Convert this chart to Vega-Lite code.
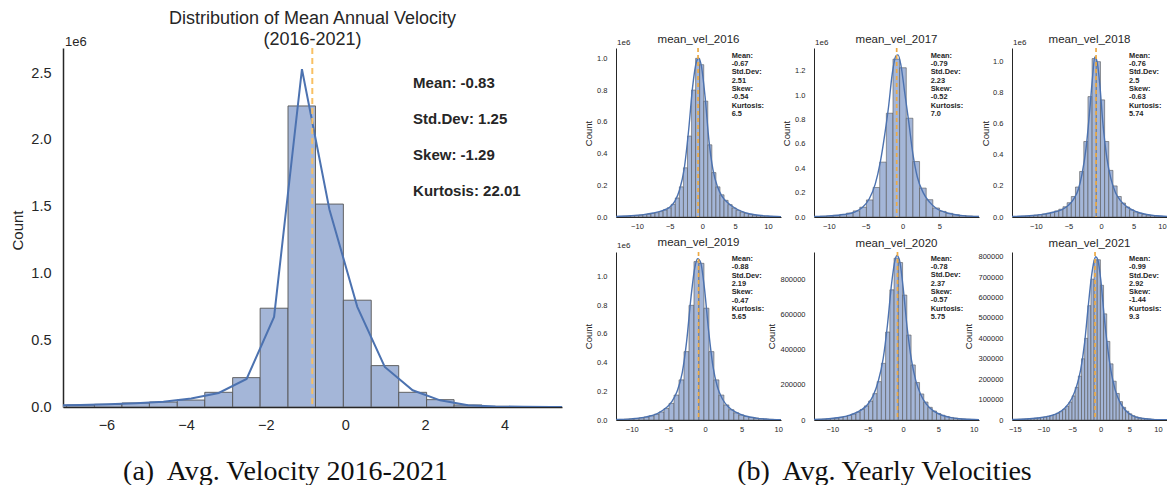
{
  "$schema": "https://vega.github.io/schema/vega-lite/v6.json",
  "padding": {"left": 10, "top": 10, "right": 0, "bottom": 0},
  "background": "white",
  "config": {
    "view": {"stroke": null},
    "font": "Liberation Sans",
    "axis": {"grid": false, "ticks": false, "tickCount": 20, "domainColor": "#262626", "labelColor": "#262626", "titleColor": "#262626", "labelFont": "Liberation Sans", "titleFont": "Liberation Sans", "titleFontWeight": "normal", "labelOverlap": false},
    "title": {"font": "Liberation Sans", "fontWeight": "normal", "color": "#262626", "anchor": "middle", "frame": "group"}
  },
  "datasets": {
    "hist_all": [
      {"lo": -7.7, "hi": -7.0, "n": 0.012}, {"lo": -7.0, "hi": -6.3, "n": 0.015}, {"lo": -6.3, "hi": -5.61, "n": 0.02}, {"lo": -5.61, "hi": -4.92, "n": 0.03}, {"lo": -4.92, "hi": -4.22, "n": 0.037}, {"lo": -4.22, "hi": -3.53, "n": 0.052}, {"lo": -3.53, "hi": -2.83, "n": 0.11}, {"lo": -2.83, "hi": -2.14, "n": 0.22}, {"lo": -2.14, "hi": -1.44, "n": 0.74}, {"lo": -1.44, "hi": -0.75, "n": 2.255}, {"lo": -0.75, "hi": -0.05, "n": 1.52}, {"lo": -0.05, "hi": 0.65, "n": 0.8}, {"lo": 0.65, "hi": 1.34, "n": 0.31}, {"lo": 1.34, "hi": 2.04, "n": 0.11}, {"lo": 2.04, "hi": 2.73, "n": 0.055}, {"lo": 2.73, "hi": 3.43, "n": 0.015}, {"lo": 3.43, "hi": 4.12, "n": 0.005}, {"lo": 4.12, "hi": 4.82, "n": 0.002}, {"lo": 4.82, "hi": 5.51, "n": 0.001}
    ],
    "kde_all": [
      {"v": -7.35, "d": 0.011}, {"v": -6.65, "d": 0.015}, {"v": -5.96, "d": 0.02}, {"v": -5.26, "d": 0.028}, {"v": -4.57, "d": 0.04}, {"v": -3.87, "d": 0.063}, {"v": -3.18, "d": 0.105}, {"v": -2.48, "d": 0.21}, {"v": -1.79, "d": 0.675}, {"v": -1.09, "d": 2.53}, {"v": -0.4, "d": 1.48}, {"v": 0.3, "d": 0.75}, {"v": 0.99, "d": 0.3}, {"v": 1.69, "d": 0.125}, {"v": 2.38, "d": 0.05}, {"v": 3.08, "d": 0.0125}, {"v": 3.77, "d": 0.004}, {"v": 4.47, "d": 0.0015}, {"v": 5.16, "d": 0.0005}, {"v": 5.86, "d": 0.0002}
    ],
    "h2016": [
      {"lo": -13.44, "hi": -12.82, "n": 0.003}, {"lo": -12.82, "hi": -12.2, "n": 0.004}, {"lo": -12.2, "hi": -11.58, "n": 0.005}, {"lo": -11.58, "hi": -10.96, "n": 0.006}, {"lo": -10.96, "hi": -10.34, "n": 0.008}, {"lo": -10.34, "hi": -9.72, "n": 0.01}, {"lo": -9.72, "hi": -9.1, "n": 0.012}, {"lo": -9.1, "hi": -8.48, "n": 0.015}, {"lo": -8.48, "hi": -7.86, "n": 0.018}, {"lo": -7.86, "hi": -7.24, "n": 0.022}, {"lo": -7.24, "hi": -6.62, "n": 0.027}, {"lo": -6.62, "hi": -6.0, "n": 0.034}, {"lo": -6.0, "hi": -5.38, "n": 0.044}, {"lo": -5.38, "hi": -4.76, "n": 0.058}, {"lo": -4.76, "hi": -4.14, "n": 0.08}, {"lo": -4.14, "hi": -3.52, "n": 0.12}, {"lo": -3.52, "hi": -2.9, "n": 0.19}, {"lo": -2.9, "hi": -2.28, "n": 0.31}, {"lo": -2.28, "hi": -1.66, "n": 0.51}, {"lo": -1.66, "hi": -1.04, "n": 0.8}, {"lo": -1.04, "hi": -0.42, "n": 1.0}, {"lo": -0.42, "hi": 0.2, "n": 0.96}, {"lo": 0.2, "hi": 0.82, "n": 0.73}, {"lo": 0.82, "hi": 1.44, "n": 0.455}, {"lo": 1.44, "hi": 2.06, "n": 0.28}, {"lo": 2.06, "hi": 2.68, "n": 0.19}, {"lo": 2.68, "hi": 3.3, "n": 0.14}, {"lo": 3.3, "hi": 3.92, "n": 0.105}, {"lo": 3.92, "hi": 4.54, "n": 0.078}, {"lo": 4.54, "hi": 5.16, "n": 0.057}, {"lo": 5.16, "hi": 5.78, "n": 0.042}, {"lo": 5.78, "hi": 6.4, "n": 0.031}, {"lo": 6.4, "hi": 7.02, "n": 0.023}, {"lo": 7.02, "hi": 7.64, "n": 0.017}, {"lo": 7.64, "hi": 8.26, "n": 0.012}, {"lo": 8.26, "hi": 8.88, "n": 0.009}, {"lo": 8.88, "hi": 9.5, "n": 0.007}, {"lo": 9.5, "hi": 10.12, "n": 0.005}, {"lo": 10.12, "hi": 10.74, "n": 0.004}, {"lo": 10.74, "hi": 11.36, "n": 0.003}, {"lo": 11.36, "hi": 11.98, "n": 0.002}
    ],
    "k2016": [
      {"v": -13.2, "d": 0.004}, {"v": -11, "d": 0.008}, {"v": -9, "d": 0.015}, {"v": -7.5, "d": 0.025}, {"v": -6, "d": 0.042}, {"v": -5, "d": 0.062}, {"v": -4.2, "d": 0.1}, {"v": -3.5, "d": 0.17}, {"v": -2.8, "d": 0.3}, {"v": -2.1, "d": 0.55}, {"v": -1.5, "d": 0.82}, {"v": -0.9, "d": 0.98}, {"v": -0.6, "d": 1.0}, {"v": -0.2, "d": 0.96}, {"v": 0.4, "d": 0.76}, {"v": 1.0, "d": 0.48}, {"v": 1.6, "d": 0.3}, {"v": 2.3, "d": 0.19}, {"v": 3.0, "d": 0.13}, {"v": 4.0, "d": 0.085}, {"v": 5.0, "d": 0.055}, {"v": 6.5, "d": 0.028}, {"v": 8, "d": 0.014}, {"v": 10, "d": 0.006}, {"v": 12, "d": 0.002}
    ],
    "h2017": [
      {"lo": -12.09, "hi": -11.19, "n": 0.004}, {"lo": -11.19, "hi": -10.29, "n": 0.006}, {"lo": -10.29, "hi": -9.39, "n": 0.009}, {"lo": -9.39, "hi": -8.49, "n": 0.014}, {"lo": -8.49, "hi": -7.59, "n": 0.021}, {"lo": -7.59, "hi": -6.69, "n": 0.032}, {"lo": -6.69, "hi": -5.79, "n": 0.05}, {"lo": -5.79, "hi": -4.89, "n": 0.08}, {"lo": -4.89, "hi": -3.99, "n": 0.14}, {"lo": -3.99, "hi": -3.09, "n": 0.242}, {"lo": -3.09, "hi": -2.19, "n": 0.45}, {"lo": -2.19, "hi": -1.29, "n": 0.851}, {"lo": -1.29, "hi": -0.39, "n": 1.295}, {"lo": -0.39, "hi": 0.51, "n": 1.224}, {"lo": 0.51, "hi": 1.41, "n": 0.81}, {"lo": 1.41, "hi": 2.31, "n": 0.455}, {"lo": 2.31, "hi": 3.21, "n": 0.237}, {"lo": 3.21, "hi": 4.11, "n": 0.142}, {"lo": 4.11, "hi": 5.01, "n": 0.074}, {"lo": 5.01, "hi": 5.91, "n": 0.046}, {"lo": 5.91, "hi": 6.81, "n": 0.03}, {"lo": 6.81, "hi": 7.71, "n": 0.019}, {"lo": 7.71, "hi": 8.61, "n": 0.012}, {"lo": 8.61, "hi": 9.51, "n": 0.008}, {"lo": 9.51, "hi": 10.41, "n": 0.005}, {"lo": 10.41, "hi": 11.31, "n": 0.003}
    ],
    "k2017": [
      {"v": -12, "d": 0.004}, {"v": -10, "d": 0.009}, {"v": -8, "d": 0.02}, {"v": -6.5, "d": 0.04}, {"v": -5.5, "d": 0.075}, {"v": -4.5, "d": 0.15}, {"v": -3.7, "d": 0.27}, {"v": -3.0, "d": 0.455}, {"v": -2.4, "d": 0.68}, {"v": -1.9, "d": 0.9}, {"v": -1.4, "d": 1.17}, {"v": -0.9, "d": 1.32}, {"v": -0.6, "d": 1.33}, {"v": -0.2, "d": 1.24}, {"v": 0.3, "d": 1.02}, {"v": 0.8, "d": 0.8}, {"v": 1.4, "d": 0.52}, {"v": 2.0, "d": 0.33}, {"v": 2.8, "d": 0.2}, {"v": 3.7, "d": 0.12}, {"v": 4.6, "d": 0.07}, {"v": 5.6, "d": 0.042}, {"v": 7, "d": 0.02}, {"v": 8.5, "d": 0.009}, {"v": 10.4, "d": 0.004}
    ],
    "h2018": [
      {"lo": -14.16, "hi": -13.52, "n": 0.002}, {"lo": -13.52, "hi": -12.88, "n": 0.003}, {"lo": -12.88, "hi": -12.24, "n": 0.004}, {"lo": -12.24, "hi": -11.6, "n": 0.005}, {"lo": -11.6, "hi": -10.96, "n": 0.007}, {"lo": -10.96, "hi": -10.32, "n": 0.009}, {"lo": -10.32, "hi": -9.68, "n": 0.012}, {"lo": -9.68, "hi": -9.04, "n": 0.015}, {"lo": -9.04, "hi": -8.4, "n": 0.019}, {"lo": -8.4, "hi": -7.76, "n": 0.024}, {"lo": -7.76, "hi": -7.12, "n": 0.03}, {"lo": -7.12, "hi": -6.48, "n": 0.039}, {"lo": -6.48, "hi": -5.84, "n": 0.05}, {"lo": -5.84, "hi": -5.2, "n": 0.066}, {"lo": -5.2, "hi": -4.56, "n": 0.092}, {"lo": -4.56, "hi": -3.92, "n": 0.132}, {"lo": -3.92, "hi": -3.28, "n": 0.193}, {"lo": -3.28, "hi": -2.64, "n": 0.293}, {"lo": -2.64, "hi": -2.0, "n": 0.486}, {"lo": -2.0, "hi": -1.36, "n": 0.775}, {"lo": -1.36, "hi": -0.72, "n": 1.02}, {"lo": -0.72, "hi": -0.08, "n": 1.0}, {"lo": -0.08, "hi": 0.56, "n": 0.754}, {"lo": 0.56, "hi": 1.2, "n": 0.486}, {"lo": 1.2, "hi": 1.84, "n": 0.3}, {"lo": 1.84, "hi": 2.48, "n": 0.2}, {"lo": 2.48, "hi": 3.12, "n": 0.132}, {"lo": 3.12, "hi": 3.76, "n": 0.09}, {"lo": 3.76, "hi": 4.4, "n": 0.064}, {"lo": 4.4, "hi": 5.04, "n": 0.046}, {"lo": 5.04, "hi": 5.68, "n": 0.033}, {"lo": 5.68, "hi": 6.32, "n": 0.024}, {"lo": 6.32, "hi": 6.96, "n": 0.017}, {"lo": 6.96, "hi": 7.6, "n": 0.012}, {"lo": 7.6, "hi": 8.24, "n": 0.009}, {"lo": 8.24, "hi": 8.88, "n": 0.006}, {"lo": 8.88, "hi": 9.52, "n": 0.004}, {"lo": 9.52, "hi": 10.16, "n": 0.003}
    ],
    "k2018": [
      {"v": -13.7, "d": 0.003}, {"v": -11, "d": 0.008}, {"v": -9, "d": 0.017}, {"v": -7.5, "d": 0.029}, {"v": -6, "d": 0.048}, {"v": -5, "d": 0.075}, {"v": -4.2, "d": 0.115}, {"v": -3.5, "d": 0.175}, {"v": -2.9, "d": 0.28}, {"v": -2.3, "d": 0.44}, {"v": -1.7, "d": 0.7}, {"v": -1.3, "d": 0.9}, {"v": -0.95, "d": 1.03}, {"v": -0.6, "d": 1.0}, {"v": -0.2, "d": 0.86}, {"v": 0.3, "d": 0.6}, {"v": 0.9, "d": 0.38}, {"v": 1.5, "d": 0.25}, {"v": 2.2, "d": 0.16}, {"v": 3.0, "d": 0.105}, {"v": 4.0, "d": 0.065}, {"v": 5.3, "d": 0.036}, {"v": 7, "d": 0.016}, {"v": 8.5, "d": 0.008}, {"v": 10.2, "d": 0.003}
    ],
    "h2019": [
      {"lo": -12.38, "hi": -11.7, "n": 0.003}, {"lo": -11.7, "hi": -11.02, "n": 0.004}, {"lo": -11.02, "hi": -10.34, "n": 0.006}, {"lo": -10.34, "hi": -9.66, "n": 0.008}, {"lo": -9.66, "hi": -8.98, "n": 0.011}, {"lo": -8.98, "hi": -8.3, "n": 0.015}, {"lo": -8.3, "hi": -7.62, "n": 0.021}, {"lo": -7.62, "hi": -6.94, "n": 0.029}, {"lo": -6.94, "hi": -6.26, "n": 0.04}, {"lo": -6.26, "hi": -5.58, "n": 0.056}, {"lo": -5.58, "hi": -4.9, "n": 0.08}, {"lo": -4.9, "hi": -4.22, "n": 0.116}, {"lo": -4.22, "hi": -3.54, "n": 0.174}, {"lo": -3.54, "hi": -2.86, "n": 0.28}, {"lo": -2.86, "hi": -2.18, "n": 0.477}, {"lo": -2.18, "hi": -1.5, "n": 0.8}, {"lo": -1.5, "hi": -0.82, "n": 1.105}, {"lo": -0.82, "hi": -0.14, "n": 1.093}, {"lo": -0.14, "hi": 0.54, "n": 0.78}, {"lo": 0.54, "hi": 1.22, "n": 0.477}, {"lo": 1.22, "hi": 1.9, "n": 0.28}, {"lo": 1.9, "hi": 2.58, "n": 0.174}, {"lo": 2.58, "hi": 3.26, "n": 0.105}, {"lo": 3.26, "hi": 3.94, "n": 0.072}, {"lo": 3.94, "hi": 4.62, "n": 0.05}, {"lo": 4.62, "hi": 5.3, "n": 0.035}, {"lo": 5.3, "hi": 5.98, "n": 0.025}, {"lo": 5.98, "hi": 6.66, "n": 0.018}, {"lo": 6.66, "hi": 7.34, "n": 0.013}, {"lo": 7.34, "hi": 8.02, "n": 0.009}, {"lo": 8.02, "hi": 8.7, "n": 0.006}, {"lo": 8.7, "hi": 9.38, "n": 0.0045}, {"lo": 9.38, "hi": 10.06, "n": 0.003}, {"lo": 10.06, "hi": 10.74, "n": 0.002}
    ],
    "k2019": [
      {"v": -12.1, "d": 0.003}, {"v": -10, "d": 0.008}, {"v": -8, "d": 0.022}, {"v": -6.5, "d": 0.045}, {"v": -5.3, "d": 0.085}, {"v": -4.5, "d": 0.13}, {"v": -3.8, "d": 0.2}, {"v": -3.1, "d": 0.33}, {"v": -2.5, "d": 0.55}, {"v": -1.9, "d": 0.86}, {"v": -1.4, "d": 1.06}, {"v": -1.0, "d": 1.125}, {"v": -0.6, "d": 1.1}, {"v": -0.1, "d": 0.93}, {"v": 0.5, "d": 0.62}, {"v": 1.1, "d": 0.37}, {"v": 1.7, "d": 0.23}, {"v": 2.4, "d": 0.145}, {"v": 3.2, "d": 0.09}, {"v": 4.2, "d": 0.055}, {"v": 5.5, "d": 0.028}, {"v": 7, "d": 0.013}, {"v": 8.5, "d": 0.006}, {"v": 10.4, "d": 0.002}
    ],
    "h2020": [
      {"lo": -12.66, "hi": -12.06, "n": 2900}, {"lo": -12.06, "hi": -11.46, "n": 3800}, {"lo": -11.46, "hi": -10.86, "n": 5000}, {"lo": -10.86, "hi": -10.26, "n": 6500}, {"lo": -10.26, "hi": -9.66, "n": 8500}, {"lo": -9.66, "hi": -9.06, "n": 11500}, {"lo": -9.06, "hi": -8.46, "n": 15000}, {"lo": -8.46, "hi": -7.86, "n": 20000}, {"lo": -7.86, "hi": -7.26, "n": 26000}, {"lo": -7.26, "hi": -6.66, "n": 34000}, {"lo": -6.66, "hi": -6.06, "n": 45000}, {"lo": -6.06, "hi": -5.46, "n": 60000}, {"lo": -5.46, "hi": -4.86, "n": 80000}, {"lo": -4.86, "hi": -4.26, "n": 108000}, {"lo": -4.26, "hi": -3.66, "n": 150000}, {"lo": -3.66, "hi": -3.06, "n": 218000}, {"lo": -3.06, "hi": -2.46, "n": 322000}, {"lo": -2.46, "hi": -1.86, "n": 500000}, {"lo": -1.86, "hi": -1.26, "n": 740000}, {"lo": -1.26, "hi": -0.66, "n": 920000}, {"lo": -0.66, "hi": -0.06, "n": 895000}, {"lo": -0.06, "hi": 0.54, "n": 710000}, {"lo": 0.54, "hi": 1.14, "n": 483000}, {"lo": 1.14, "hi": 1.74, "n": 313000}, {"lo": 1.74, "hi": 2.34, "n": 213000}, {"lo": 2.34, "hi": 2.94, "n": 148000}, {"lo": 2.94, "hi": 3.54, "n": 102000}, {"lo": 3.54, "hi": 4.14, "n": 72000}, {"lo": 4.14, "hi": 4.74, "n": 51000}, {"lo": 4.74, "hi": 5.34, "n": 37000}, {"lo": 5.34, "hi": 5.94, "n": 27000}, {"lo": 5.94, "hi": 6.54, "n": 20000}, {"lo": 6.54, "hi": 7.14, "n": 14500}, {"lo": 7.14, "hi": 7.74, "n": 10500}, {"lo": 7.74, "hi": 8.34, "n": 7500}, {"lo": 8.34, "hi": 8.94, "n": 5500}, {"lo": 8.94, "hi": 9.54, "n": 4000}, {"lo": 9.54, "hi": 10.14, "n": 3000}, {"lo": 10.14, "hi": 10.74, "n": 2200}, {"lo": 10.74, "hi": 11.34, "n": 1600}
    ],
    "k2020": [
      {"v": -12.6, "d": 3000}, {"v": -10.5, "d": 7000}, {"v": -9, "d": 14000}, {"v": -7.5, "d": 28000}, {"v": -6, "d": 55000}, {"v": -5, "d": 88000}, {"v": -4.2, "d": 140000}, {"v": -3.5, "d": 220000}, {"v": -2.8, "d": 350000}, {"v": -2.2, "d": 540000}, {"v": -1.6, "d": 780000}, {"v": -1.15, "d": 905000}, {"v": -0.85, "d": 935000}, {"v": -0.45, "d": 900000}, {"v": 0, "d": 760000}, {"v": 0.6, "d": 520000}, {"v": 1.2, "d": 340000}, {"v": 1.8, "d": 225000}, {"v": 2.5, "d": 145000}, {"v": 3.3, "d": 90000}, {"v": 4.3, "d": 52000}, {"v": 5.5, "d": 27000}, {"v": 7, "d": 12000}, {"v": 8.5, "d": 5500}, {"v": 10.8, "d": 1800}
    ],
    "h2021": [
      {"lo": -15.45, "hi": -14.9, "n": 2600}, {"lo": -14.9, "hi": -14.35, "n": 3100}, {"lo": -14.35, "hi": -13.8, "n": 3700}, {"lo": -13.8, "hi": -13.25, "n": 4400}, {"lo": -13.25, "hi": -12.7, "n": 5200}, {"lo": -12.7, "hi": -12.15, "n": 6200}, {"lo": -12.15, "hi": -11.6, "n": 7400}, {"lo": -11.6, "hi": -11.05, "n": 8800}, {"lo": -11.05, "hi": -10.5, "n": 10500}, {"lo": -10.5, "hi": -9.95, "n": 12500}, {"lo": -9.95, "hi": -9.4, "n": 15000}, {"lo": -9.4, "hi": -8.85, "n": 18000}, {"lo": -8.85, "hi": -8.3, "n": 22000}, {"lo": -8.3, "hi": -7.75, "n": 27000}, {"lo": -7.75, "hi": -7.2, "n": 33000}, {"lo": -7.2, "hi": -6.65, "n": 41000}, {"lo": -6.65, "hi": -6.1, "n": 52000}, {"lo": -6.1, "hi": -5.55, "n": 67000}, {"lo": -5.55, "hi": -5.0, "n": 88000}, {"lo": -5.0, "hi": -4.45, "n": 118000}, {"lo": -4.45, "hi": -3.9, "n": 160000}, {"lo": -3.9, "hi": -3.35, "n": 215000}, {"lo": -3.35, "hi": -2.8, "n": 300000}, {"lo": -2.8, "hi": -2.25, "n": 400000}, {"lo": -2.25, "hi": -1.7, "n": 560000}, {"lo": -1.7, "hi": -1.15, "n": 690000}, {"lo": -1.15, "hi": -0.6, "n": 785000}, {"lo": -0.6, "hi": -0.05, "n": 785000}, {"lo": -0.05, "hi": 0.5, "n": 660000}, {"lo": 0.5, "hi": 1.05, "n": 520000}, {"lo": 1.05, "hi": 1.6, "n": 385000}, {"lo": 1.6, "hi": 2.15, "n": 275000}, {"lo": 2.15, "hi": 2.7, "n": 190000}, {"lo": 2.7, "hi": 3.25, "n": 130000}, {"lo": 3.25, "hi": 3.8, "n": 90000}, {"lo": 3.8, "hi": 4.35, "n": 62000}, {"lo": 4.35, "hi": 4.9, "n": 43000}, {"lo": 4.9, "hi": 5.45, "n": 30000}, {"lo": 5.45, "hi": 6.0, "n": 21000}, {"lo": 6.0, "hi": 6.55, "n": 15000}, {"lo": 6.55, "hi": 7.1, "n": 11000}, {"lo": 7.1, "hi": 7.65, "n": 8000}, {"lo": 7.65, "hi": 8.2, "n": 6000}, {"lo": 8.2, "hi": 8.75, "n": 4500}, {"lo": 8.75, "hi": 9.3, "n": 3400}, {"lo": 9.3, "hi": 9.85, "n": 2600}, {"lo": 9.85, "hi": 10.4, "n": 2000}, {"lo": 10.4, "hi": 10.95, "n": 1500}, {"lo": 10.95, "hi": 11.5, "n": 1100}, {"lo": 11.5, "hi": 12.05, "n": 800}
    ],
    "k2021": [
      {"v": -15.5, "d": 2500}, {"v": -13, "d": 5000}, {"v": -11, "d": 10000}, {"v": -9, "d": 19000}, {"v": -7.5, "d": 34000}, {"v": -6.2, "d": 60000}, {"v": -5, "d": 108000}, {"v": -4.2, "d": 165000}, {"v": -3.5, "d": 245000}, {"v": -2.8, "d": 380000}, {"v": -2.2, "d": 550000}, {"v": -1.6, "d": 705000}, {"v": -1.15, "d": 780000}, {"v": -0.85, "d": 800000}, {"v": -0.5, "d": 785000}, {"v": 0, "d": 690000}, {"v": 0.6, "d": 510000}, {"v": 1.2, "d": 355000}, {"v": 1.8, "d": 240000}, {"v": 2.5, "d": 150000}, {"v": 3.3, "d": 90000}, {"v": 4.3, "d": 48000}, {"v": 5.5, "d": 22000}, {"v": 7, "d": 9000}, {"v": 9, "d": 3200}, {"v": 11.6, "d": 900}
    ]
  },
  "hconcat": [
    {
      "width": 499, "height": 359,
      "title": {"text": ["Distribution of Mean Annual Velocity", "(2016-2021)"], "fontSize": 18, "lineHeight": 21, "offset": -13},
      "layer": [
        {"data": {"name": "hist_all"}, "mark": {"type": "rect", "clip": true, "fill": "#a4b6d8", "stroke": "#555555", "strokeWidth": 0.9},
         "encoding": {
           "x": {"field": "lo", "type": "quantitative", "scale": {"domain": [-7.09, 5.44], "nice": false, "zero": false},
                 "axis": {"values": [-6, -4, -2, 0, 2, 4], "tickCount": 20, "format": "d", "labelOverlap": false, "labelFontSize": 14.5, "labelPadding": 11, "domainWidth": 1.5, "title": "(a)\u00a0 Avg. Velocity 2016-2021", "titleFont": "Liberation Serif", "titleFontSize": 28, "titleX": 222, "titleY": 72, "titleBaseline": "alphabetic", "titleAlign": "center", "titleColor": "#111111"}},
           "x2": {"field": "hi"},
           "y": {"field": "n", "type": "quantitative", "scale": {"domain": [0, 2.689], "nice": false},
                 "axis": {"values": [0, 0.5, 1, 1.5, 2, 2.5], "tickCount": 20, "format": ".1f", "labelOverlap": false, "labelFontSize": 14.5, "labelPadding": 12, "domainWidth": 1.5, "title": "Count", "titleFontSize": 15, "titleX": -46, "titleY": 182, "titleAngle": -90, "titleBaseline": "middle", "titleAlign": "center"}},
           "y2": {"datum": 0}
         }},
        {"data": {"name": "kde_all"}, "mark": {"type": "line", "clip": true, "color": "#4c72b0", "strokeWidth": 2},
         "encoding": {"x": {"field": "v", "type": "quantitative"}, "y": {"field": "d", "type": "quantitative"}}},
        {"data": {"values": [{"mean": -0.83}]}, "mark": {"type": "rule", "color": "#f8c064", "strokeWidth": 2, "strokeDash": [6, 4]},
         "encoding": {"x": {"field": "mean", "type": "quantitative"}}},
        {"data": {"values": [{"s": "Mean: -0.83\nStd.Dev: 1.25\nSkew: -1.29\nKurtosis: 22.01"}]}, "mark": {"type": "text", "align": "left", "baseline": "top", "fontSize": 15, "fontWeight": "bold", "color": "#262626", "lineBreak": "\n", "lineHeight": 35.7},
         "encoding": {"x": {"datum": 1.7}, "y": {"datum": 2.476}, "text": {"field": "s"}}},
        {"data": {"values": [{"t": "1e6"}]}, "mark": {"type": "text", "align": "left", "baseline": "bottom", "fontSize": 13, "color": "#262626", "dx": 2, "dy": 1},
         "encoding": {"x": {"datum": -7.09}, "y": {"datum": 2.689}, "text": {"field": "t"}}}
      ]
    },
    {
      "bounds": "flush",
      "columns": 3,
      "spacing": {"row": 35, "column": 33},
      "concat": [
        {
          "width": 165, "height": 169,
          "title": {"text": "mean_vel_2016", "fontSize": 11.5, "offset": -6},
          "layer": [
            {"data": {"name": "h2016"}, "mark": {"type": "rect", "clip": true, "fill": "#a4b6d8", "stroke": "#555555", "strokeWidth": 0.6},
             "encoding": {
               "x": {"field": "lo", "type": "quantitative", "scale": {"domain": [-13.2, 12.0], "nice": false, "zero": false}, "axis": {"values": [-10, -5, 0, 5, 10], "tickCount": 20, "format": "d", "labelOverlap": false, "labelFontSize": 7.5, "labelPadding": 5, "domainWidth": 1, "title": null}},
               "x2": {"field": "hi"},
               "y": {"field": "n", "type": "quantitative", "scale": {"domain": [0, 1.065], "nice": false}, "axis": {"values": [0, 0.2, 0.4, 0.6, 0.8, 1.0], "tickCount": 20, "format": ".1f", "labelOverlap": false, "labelFontSize": 7.5, "labelPadding": 9, "domainWidth": 1, "title": "Count", "titleFontSize": 9.5, "titleX": -28, "titleY": 85, "titleAngle": -90, "titleBaseline": "middle", "titleAlign": "center"}},
               "y2": {"datum": 0}
             }},
            {"data": {"name": "k2016"}, "mark": {"type": "line", "clip": true, "color": "#4c72b0", "strokeWidth": 1.4, "interpolate": "monotone"}, "encoding": {"x": {"field": "v", "type": "quantitative"}, "y": {"field": "d", "type": "quantitative"}}},
            {"data": {"values": [{"mean": -0.67}]}, "mark": {"type": "rule", "color": "#eeaa44", "strokeWidth": 1.7, "strokeDash": [4, 3]}, "encoding": {"x": {"field": "mean", "type": "quantitative"}}},
            {"data": {"values": [{"s": "Mean:\n-0.67\nStd.Dev:\n2.51\nSkew:\n-0.54\nKurtosis:\n6.5"}]}, "mark": {"type": "text", "align": "left", "baseline": "top", "fontSize": 7.4, "fontWeight": "bold", "color": "#262626", "lineBreak": "\n", "lineHeight": 8.33}, "encoding": {"x": {"datum": 4.46}, "y": {"datum": 1.042}, "text": {"field": "s"}}},
            {"data": {"values": [{"t": "1e6"}]}, "mark": {"type": "text", "align": "left", "baseline": "bottom", "fontSize": 8, "color": "#262626", "dx": 1, "dy": -1}, "encoding": {"x": {"datum": -13.2}, "y": {"datum": 1.065}, "text": {"field": "t"}}}
          ]
        },
        {
          "width": 165, "height": 169,
          "title": {"text": "mean_vel_2017", "fontSize": 11.5, "offset": -6},
          "layer": [
            {"data": {"name": "h2017"}, "mark": {"type": "rect", "clip": true, "fill": "#a4b6d8", "stroke": "#555555", "strokeWidth": 0.6},
             "encoding": {
               "x": {"field": "lo", "type": "quantitative", "scale": {"domain": [-12.0, 10.37], "nice": false, "zero": false}, "axis": {"values": [-10, -5, 0, 5], "tickCount": 20, "format": "d", "labelOverlap": false, "labelFontSize": 7.5, "labelPadding": 5, "domainWidth": 1, "title": null}},
               "x2": {"field": "hi"},
               "y": {"field": "n", "type": "quantitative", "scale": {"domain": [0, 1.386], "nice": false}, "axis": {"values": [0, 0.2, 0.4, 0.6, 0.8, 1.0, 1.2], "tickCount": 20, "format": ".1f", "labelOverlap": false, "labelFontSize": 7.5, "labelPadding": 9, "domainWidth": 1, "title": "Count", "titleFontSize": 9.5, "titleX": -28, "titleY": 85, "titleAngle": -90, "titleBaseline": "middle", "titleAlign": "center"}},
               "y2": {"datum": 0}
             }},
            {"data": {"name": "k2017"}, "mark": {"type": "line", "clip": true, "color": "#4c72b0", "strokeWidth": 1.4, "interpolate": "monotone"}, "encoding": {"x": {"field": "v", "type": "quantitative"}, "y": {"field": "d", "type": "quantitative"}}},
            {"data": {"values": [{"mean": -0.79}]}, "mark": {"type": "rule", "color": "#eeaa44", "strokeWidth": 1.7, "strokeDash": [4, 3]}, "encoding": {"x": {"field": "mean", "type": "quantitative"}}},
            {"data": {"values": [{"s": "Mean:\n-0.79\nStd.Dev:\n2.23\nSkew:\n-0.52\nKurtosis:\n7.0"}]}, "mark": {"type": "text", "align": "left", "baseline": "top", "fontSize": 7.4, "fontWeight": "bold", "color": "#262626", "lineBreak": "\n", "lineHeight": 8.33}, "encoding": {"x": {"datum": 3.82}, "y": {"datum": 1.356}, "text": {"field": "s"}}},
            {"data": {"values": [{"t": "1e6"}]}, "mark": {"type": "text", "align": "left", "baseline": "bottom", "fontSize": 8, "color": "#262626", "dx": 1, "dy": -1}, "encoding": {"x": {"datum": -12.0}, "y": {"datum": 1.386}, "text": {"field": "t"}}}
          ]
        },
        {
          "width": 155, "height": 169,
          "title": {"text": "mean_vel_2018", "fontSize": 11.5, "offset": -6},
          "layer": [
            {"data": {"name": "h2018"}, "mark": {"type": "rect", "clip": true, "fill": "#a4b6d8", "stroke": "#555555", "strokeWidth": 0.6},
             "encoding": {
               "x": {"field": "lo", "type": "quantitative", "scale": {"domain": [-13.67, 10.14], "nice": false, "zero": false}, "axis": {"values": [-10, -5, 0, 5, 10], "tickCount": 20, "format": "d", "labelOverlap": false, "labelFontSize": 7.5, "labelPadding": 5, "domainWidth": 1, "title": null, "labelFlush": 5}},
               "x2": {"field": "hi"},
               "y": {"field": "n", "type": "quantitative", "scale": {"domain": [0, 1.088], "nice": false}, "axis": {"values": [0, 0.2, 0.4, 0.6, 0.8, 1.0], "tickCount": 20, "format": ".1f", "labelOverlap": false, "labelFontSize": 7.5, "labelPadding": 9, "domainWidth": 1, "title": "Count", "titleFontSize": 9.5, "titleX": -27, "titleY": 85, "titleAngle": -90, "titleBaseline": "middle", "titleAlign": "center"}},
               "y2": {"datum": 0}
             }},
            {"data": {"name": "k2018"}, "mark": {"type": "line", "clip": true, "color": "#4c72b0", "strokeWidth": 1.4, "interpolate": "monotone"}, "encoding": {"x": {"field": "v", "type": "quantitative"}, "y": {"field": "d", "type": "quantitative"}}},
            {"data": {"values": [{"mean": -0.76}]}, "mark": {"type": "rule", "color": "#eeaa44", "strokeWidth": 1.7, "strokeDash": [4, 3]}, "encoding": {"x": {"field": "mean", "type": "quantitative"}}},
            {"data": {"values": [{"s": "Mean:\n-0.76\nStd.Dev:\n2.5\nSkew:\n-0.63\nKurtosis:\n5.74"}]}, "mark": {"type": "text", "align": "left", "baseline": "top", "fontSize": 7.4, "fontWeight": "bold", "color": "#262626", "lineBreak": "\n", "lineHeight": 8.33}, "encoding": {"x": {"datum": 4.3}, "y": {"datum": 1.065}, "text": {"field": "s"}}},
            {"data": {"values": [{"t": "1e6"}]}, "mark": {"type": "text", "align": "left", "baseline": "bottom", "fontSize": 8, "color": "#262626", "dx": 1, "dy": -1}, "encoding": {"x": {"datum": -13.67}, "y": {"datum": 1.088}, "text": {"field": "t"}}}
          ]
        },
        {
          "width": 165, "height": 168,
          "title": {"text": "mean_vel_2019", "fontSize": 11.5, "offset": -6},
          "layer": [
            {"data": {"name": "h2019"}, "mark": {"type": "rect", "clip": true, "fill": "#a4b6d8", "stroke": "#555555", "strokeWidth": 0.6},
             "encoding": {
               "x": {"field": "lo", "type": "quantitative", "scale": {"domain": [-12.14, 10.37], "nice": false, "zero": false}, "axis": {"values": [-10, -5, 0, 5, 10], "tickCount": 20, "format": "d", "labelOverlap": false, "labelFontSize": 7.5, "labelPadding": 5, "domainWidth": 1, "title": null}},
               "x2": {"field": "hi"},
               "y": {"field": "n", "type": "quantitative", "scale": {"domain": [0, 1.172], "nice": false}, "axis": {"values": [0, 0.2, 0.4, 0.6, 0.8, 1.0], "tickCount": 20, "format": ".1f", "labelOverlap": false, "labelFontSize": 7.5, "labelPadding": 9, "domainWidth": 1, "title": "Count", "titleFontSize": 9.5, "titleX": -28, "titleY": 84, "titleAngle": -90, "titleBaseline": "middle", "titleAlign": "center"}},
               "y2": {"datum": 0}
             }},
            {"data": {"name": "k2019"}, "mark": {"type": "line", "clip": true, "color": "#4c72b0", "strokeWidth": 1.4, "interpolate": "monotone"}, "encoding": {"x": {"field": "v", "type": "quantitative"}, "y": {"field": "d", "type": "quantitative"}}},
            {"data": {"values": [{"mean": -0.88}]}, "mark": {"type": "rule", "color": "#eeaa44", "strokeWidth": 1.7, "strokeDash": [4, 3]}, "encoding": {"x": {"field": "mean", "type": "quantitative"}}},
            {"data": {"values": [{"s": "Mean:\n-0.88\nStd.Dev:\n2.19\nSkew:\n-0.47\nKurtosis:\n5.65"}]}, "mark": {"type": "text", "align": "left", "baseline": "top", "fontSize": 7.4, "fontWeight": "bold", "color": "#262626", "lineBreak": "\n", "lineHeight": 8.33}, "encoding": {"x": {"datum": 3.64}, "y": {"datum": 1.152}, "text": {"field": "s"}}},
            {"data": {"values": [{"t": "1e6"}]}, "mark": {"type": "text", "align": "left", "baseline": "bottom", "fontSize": 8, "color": "#262626", "dx": 1, "dy": -2}, "encoding": {"x": {"datum": -12.14}, "y": {"datum": 1.172}, "text": {"field": "t"}}}
          ]
        },
        {
          "width": 165, "height": 168,
          "title": {"text": "mean_vel_2020", "fontSize": 11.5, "offset": 2},
          "layer": [
            {"data": {"name": "h2020"}, "mark": {"type": "rect", "clip": true, "fill": "#a4b6d8", "stroke": "#555555", "strokeWidth": 0.6},
             "encoding": {
               "x": {"field": "lo", "type": "quantitative", "scale": {"domain": [-12.59, 10.75], "nice": false, "zero": false}, "axis": {"values": [-10, -5, 0, 5, 10], "tickCount": 20, "format": "d", "labelOverlap": false, "labelFontSize": 7.5, "labelPadding": 5, "domainWidth": 1, "title": "(b)\u00a0 Avg. Yearly Velocities", "titleFont": "Liberation Serif", "titleFontSize": 28, "titleX": 70, "titleY": 59, "titleBaseline": "alphabetic", "titleAlign": "center", "titleColor": "#111111"}},
               "x2": {"field": "hi"},
               "y": {"field": "n", "type": "quantitative", "scale": {"domain": [0, 955000], "nice": false}, "axis": {"values": [0, 200000, 400000, 600000, 800000], "tickCount": 20, "format": "d", "labelOverlap": false, "labelFontSize": 7.5, "labelPadding": 9, "domainWidth": 1, "title": "Count", "titleFontSize": 9.5, "titleX": -43, "titleY": 84, "titleAngle": -90, "titleBaseline": "middle", "titleAlign": "center"}},
               "y2": {"datum": 0}
             }},
            {"data": {"name": "k2020"}, "mark": {"type": "line", "clip": true, "color": "#4c72b0", "strokeWidth": 1.4, "interpolate": "monotone"}, "encoding": {"x": {"field": "v", "type": "quantitative"}, "y": {"field": "d", "type": "quantitative"}}},
            {"data": {"values": [{"mean": -0.78}]}, "mark": {"type": "rule", "color": "#eeaa44", "strokeWidth": 1.7, "strokeDash": [4, 3]}, "encoding": {"x": {"field": "mean", "type": "quantitative"}}},
            {"data": {"values": [{"s": "Mean:\n-0.78\nStd.Dev:\n2.37\nSkew:\n-0.57\nKurtosis:\n5.75"}]}, "mark": {"type": "text", "align": "left", "baseline": "top", "fontSize": 7.4, "fontWeight": "bold", "color": "#262626", "lineBreak": "\n", "lineHeight": 8.33}, "encoding": {"x": {"datum": 3.92}, "y": {"datum": 939000}, "text": {"field": "s"}}}
          ]
        },
        {
          "width": 155, "height": 168,
          "title": {"text": "mean_vel_2021", "fontSize": 11.5, "offset": 2},
          "layer": [
            {"data": {"name": "h2021"}, "mark": {"type": "rect", "clip": true, "fill": "#a4b6d8", "stroke": "#555555", "strokeWidth": 0.6},
             "encoding": {
               "x": {"field": "lo", "type": "quantitative", "scale": {"domain": [-15.48, 11.57], "nice": false, "zero": false}, "axis": {"values": [-15, -10, -5, 0, 5, 10], "tickCount": 20, "format": "d", "labelOverlap": false, "labelFontSize": 7.5, "labelPadding": 5, "domainWidth": 1, "title": null}},
               "x2": {"field": "hi"},
               "y": {"field": "n", "type": "quantitative", "scale": {"domain": [0, 823000], "nice": false}, "axis": {"values": [0, 100000, 200000, 300000, 400000, 500000, 600000, 700000, 800000], "tickCount": 20, "format": "d", "labelOverlap": false, "labelFontSize": 7.5, "labelPadding": 9, "domainWidth": 1, "title": "Count", "titleFontSize": 9.5, "titleX": -43.5, "titleY": 84, "titleAngle": -90, "titleBaseline": "middle", "titleAlign": "center"}},
               "y2": {"datum": 0}
             }},
            {"data": {"name": "k2021"}, "mark": {"type": "line", "clip": true, "color": "#4c72b0", "strokeWidth": 1.4, "interpolate": "monotone"}, "encoding": {"x": {"field": "v", "type": "quantitative"}, "y": {"field": "d", "type": "quantitative"}}},
            {"data": {"values": [{"mean": -0.99}]}, "mark": {"type": "rule", "color": "#eeaa44", "strokeWidth": 1.7, "strokeDash": [4, 3]}, "encoding": {"x": {"field": "mean", "type": "quantitative"}}},
            {"data": {"values": [{"s": "Mean:\n-0.99\nStd.Dev:\n2.92\nSkew:\n-1.44\nKurtosis:\n9.3"}]}, "mark": {"type": "text", "align": "left", "baseline": "top", "fontSize": 7.4, "fontWeight": "bold", "color": "#262626", "lineBreak": "\n", "lineHeight": 8.33}, "encoding": {"x": {"datum": 4.94}, "y": {"datum": 809000}, "text": {"field": "s"}}}
          ]
        }
      ]
    }
  ],
  "spacing": 54,
  "bounds": "flush"
}
